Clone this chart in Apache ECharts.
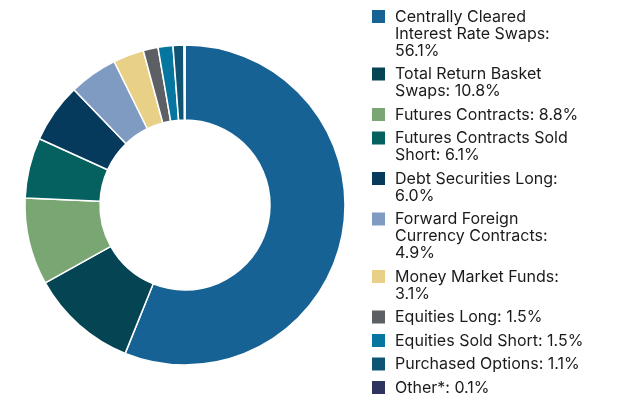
<!DOCTYPE html>
<html>
<head>
<meta charset="utf-8">
<script src="https://cdn.jsdelivr.net/npm/echarts@6/dist/echarts.min.js"></script>
<style>
  html, body { margin: 0; padding: 0; background: #fff; }
  #main { width: 627px; height: 410px; }
</style>
</head>
<body>
<div id="main"></div>
<script>
// slice names, values (%) and colours, clockwise from 12 o'clock
var categories = [
    'Centrally Cleared Interest Rate Swaps',
    'Total Return Basket Swaps',
    'Futures Contracts',
    'Futures Contracts Sold Short',
    'Debt Securities Long',
    'Forward Foreign Currency Contracts',
    'Money Market Funds',
    'Equities Long',
    'Equities Sold Short',
    'Purchased Options',
    'Other*'
];
var values = [56.1, 10.8, 8.8, 6.1, 6.0, 4.9, 3.1, 1.5, 1.5, 1.1, 0.1];
var colors = ['#176294', '#054553', '#7aa673', '#05615f', '#063a5d', '#7f9bc1',
              '#e8d186', '#5c5f63', '#0676a0', '#0f5573', '#2f3360'];
// legend text, broken the way the reference wraps it
var legendLabels = [
    'Centrally Cleared\nInterest Rate Swaps:\n56.1%',
    'Total Return Basket\nSwaps: 10.8%',
    'Futures Contracts: 8.8%',
    'Futures Contracts Sold\nShort: 6.1%',
    'Debt Securities Long:\n6.0%',
    'Forward Foreign\nCurrency Contracts:\n4.9%',
    'Money Market Funds:\n3.1%',
    'Equities Long: 1.5%',
    'Equities Sold Short: 1.5%',
    'Purchased Options: 1.1%',
    'Other*: 0.1%'
];

var myChart = echarts.init(document.getElementById('main'));

var LINE_H = 17;
var ITEM_GAP = 6.5;

function buildLegend() {
    var els = [];
    var y = 10;
    for (let i = 0; i < legendLabels.length; i++) {
        var nLines = legendLabels[i].split('\n').length;
        els.push({
            type: 'rect',
            left: 372, top: y,
            shape: { width: 13, height: 13 },
            style: { fill: colors[i] }
        });
        els.push({
            type: 'text',
            x: 395, y: y + 7 - LINE_H / 2,
            style: {
                text: legendLabels[i],
                fill: '#1b1b1b',
                fontFamily: 'Inter',
                fontSize: 16,
                lineHeight: LINE_H,
                verticalAlign: 'top'
            }
        });
        y += nLines * LINE_H + ITEM_GAP;
    }
    return els;
}

var dataList = [];
for (let i = 0; i < categories.length; i++) {
    dataList.push({ name: categories[i], value: values[i], itemStyle: { color: colors[i] } });
}

myChart.setOption({
    animation: false,
    graphic: buildLegend(),
    series: [
        {
            type: 'pie',
            center: [185, 205],
            radius: [85, 160],
            startAngle: 90,
            clockwise: true,
            label: { show: false },
            labelLine: { show: false },
            itemStyle: { borderColor: '#fff', borderWidth: 1.5 },
            data: dataList
        }
    ]
});
</script>
</body>
</html>
